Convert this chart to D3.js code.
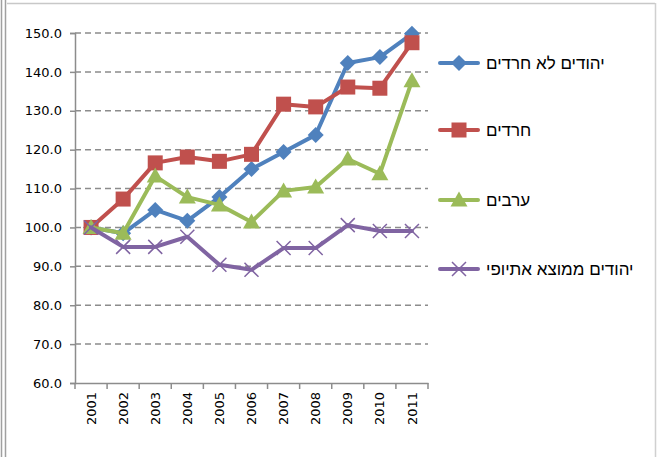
<!DOCTYPE html>
<html>
<head>
<meta charset="utf-8">
<script src="https://cdn.jsdelivr.net/npm/d3@7"></script>
<style>
  body { margin: 0; background: #fff; }
  svg { display: block; }
</style>
</head>
<body>
<div id="chart"></div>
<script>
// years and index values (2001 = 100)
var years = ['2001','2002','2003','2004','2005','2006','2007','2008','2009','2010','2011'];
var seriesNames = ['יהודים לא חרדים', 'חרדים', 'ערבים', 'יהודים ממוצא אתיופי'];
var nonHaredi = [100, 98.5, 104.5, 101.7, 107.8, 115.0, 119.4, 123.8, 142.3, 143.8, 149.8];
var haredi    = [100, 107.3, 116.6, 118.1, 117.0, 118.8, 131.7, 131.0, 136.1, 135.8, 147.5];
var arabs     = [100, 98.5, 113.2, 107.8, 105.8, 101.4, 109.4, 110.4, 117.6, 113.8, 137.7];
var ethiopian = [100, 95.0, 95.0, 97.6, 90.4, 89.1, 94.7, 94.7, 100.6, 99.1, 99.1];
var yTicks = [60, 70, 80, 90, 100, 110, 120, 130, 140, 150];

var colors = ['#4F81BD', '#C0504D', '#9BBB59', '#8064A2'];
var markers = ['diamond', 'square', 'triangle', 'cross'];
var allSeries = [nonHaredi, haredi, arabs, ethiopian];

var width = 657, height = 457;
var plot = {left: 75, right: 428, top: 33, bottom: 383};

var svg = d3.select('#chart').append('svg')
    .attr('width', width)
    .attr('height', height);

// outer frame
svg.append('line').attr('x1', 7).attr('x2', 655).attr('y1', 3.5).attr('y2', 3.5)
    .attr('stroke', '#c8c8c8').attr('stroke-width', 1.5);
svg.append('line').attr('x1', 655.5).attr('x2', 655.5).attr('y1', 3).attr('y2', height)
    .attr('stroke', '#d0d0d0').attr('stroke-width', 1.5);
[1.5, 5.5].forEach(function(x) {
  svg.append('line').attr('x1', x).attr('x2', x).attr('y1', 0).attr('y2', height)
      .attr('stroke', '#a0a0a0').attr('stroke-width', 1.5);
});

var x = d3.scaleBand().domain(years).range([plot.left, plot.right]);
var y = d3.scaleLinear().domain([60, 150]).range([plot.bottom, plot.top]);

// gridlines
svg.append('g').selectAll('line')
    .data(yTicks.filter(function(d) { return d > 60; }))
    .enter().append('line')
    .attr('x1', plot.left).attr('x2', plot.right)
    .attr('y1', function(d) { return y(d); })
    .attr('y2', function(d) { return y(d); })
    .attr('stroke', '#8c8c8c')
    .attr('stroke-width', 1.5)
    .attr('stroke-dasharray', '6,4');

// y axis
var yAxis = svg.append('g')
    .attr('transform', 'translate(' + plot.left + ',0)')
    .call(d3.axisLeft(y).tickValues(yTicks).tickSize(5).tickPadding(8)
      .tickFormat(d3.format('.1f')));
yAxis.select('.domain').attr('stroke', '#8c8c8c').attr('stroke-width', 1.5);
yAxis.selectAll('.tick line').attr('stroke', '#8c8c8c').attr('stroke-width', 1.5);
yAxis.selectAll('text')
    .attr('font-family', 'DejaVu Sans, sans-serif')
    .attr('font-size', 13)
    .attr('fill', '#000');

// x axis
var xAxis = svg.append('g')
    .attr('transform', 'translate(0,' + plot.bottom + ')')
    .call(d3.axisBottom(x).tickSize(0).tickSizeOuter(0));
xAxis.select('.domain').attr('stroke', '#8c8c8c').attr('stroke-width', 1.5);
// ticks between categories
xAxis.selectAll('.cat-tick')
    .data(years.concat(['end']))
    .enter().append('line')
    .attr('class', 'cat-tick')
    .attr('x1', function(d, i) { return plot.left + i * x.bandwidth(); })
    .attr('x2', function(d, i) { return plot.left + i * x.bandwidth(); })
    .attr('y1', 0).attr('y2', 6)
    .attr('stroke', '#8c8c8c').attr('stroke-width', 1.5);
xAxis.selectAll('.tick text')
    .attr('font-family', 'DejaVu Sans, sans-serif')
    .attr('font-size', 13)
    .attr('fill', '#000')
    .attr('text-anchor', 'end')
    .attr('dy', '0.35em')
    .attr('transform', 'translate(0,9) rotate(-90)')
    .attr('x', 0).attr('y', 0);

// line generator
var line = d3.line()
    .x(function(d, i) { return x(years[i]) + x.bandwidth() / 2; })
    .y(function(d) { return y(d); });

function drawMarker(g, type, color) {
  if (type === 'diamond') {
    g.append('path').attr('d', 'M0,-8L8,0L0,8L-8,0Z').attr('fill', color);
  } else if (type === 'square') {
    g.append('rect').attr('x', -7.5).attr('y', -7.5).attr('width', 15).attr('height', 15).attr('fill', color);
  } else if (type === 'triangle') {
    g.append('path').attr('d', 'M0,-8.5L8.5,6.5L-8.5,6.5Z').attr('fill', color);
  } else {
    g.append('path').attr('d', 'M-7,-7L7,7M-7,7L7,-7')
        .attr('stroke', color).attr('stroke-width', 1.5).attr('fill', 'none');
  }
}

allSeries.forEach(function(vals, si) {
  var g = svg.append('g');
  g.append('path')
      .datum(vals)
      .attr('d', line)
      .attr('fill', 'none')
      .attr('stroke', colors[si])
      .attr('stroke-width', 4)
      .attr('stroke-linejoin', 'round')
      .attr('stroke-linecap', 'round');
  vals.forEach(function(v, i) {
    var m = g.append('g')
        .attr('transform', 'translate(' + (x(years[i]) + x.bandwidth() / 2) + ',' + y(v) + ')');
    drawMarker(m, markers[si], colors[si]);
  });
});

// legend
var legendY = [63, 130, 200, 269];
seriesNames.forEach(function(name, si) {
  var g = svg.append('g').attr('transform', 'translate(0,' + legendY[si] + ')');
  g.append('line').attr('x1', 440).attr('x2', 478).attr('y1', 0).attr('y2', 0)
      .attr('stroke', colors[si]).attr('stroke-width', 4).attr('stroke-linecap', 'round');
  var m = g.append('g').attr('transform', 'translate(459,0)');
  drawMarker(m, markers[si], colors[si]);
  g.append('text')
      .attr('x', 486).attr('y', 0).attr('dy', '0.35em')
      .attr('font-family', 'Liberation Sans, Arial, sans-serif')
      .attr('font-size', 17)
      .attr('fill', '#000')
      .text(name);
});
</script>
</body>
</html>
